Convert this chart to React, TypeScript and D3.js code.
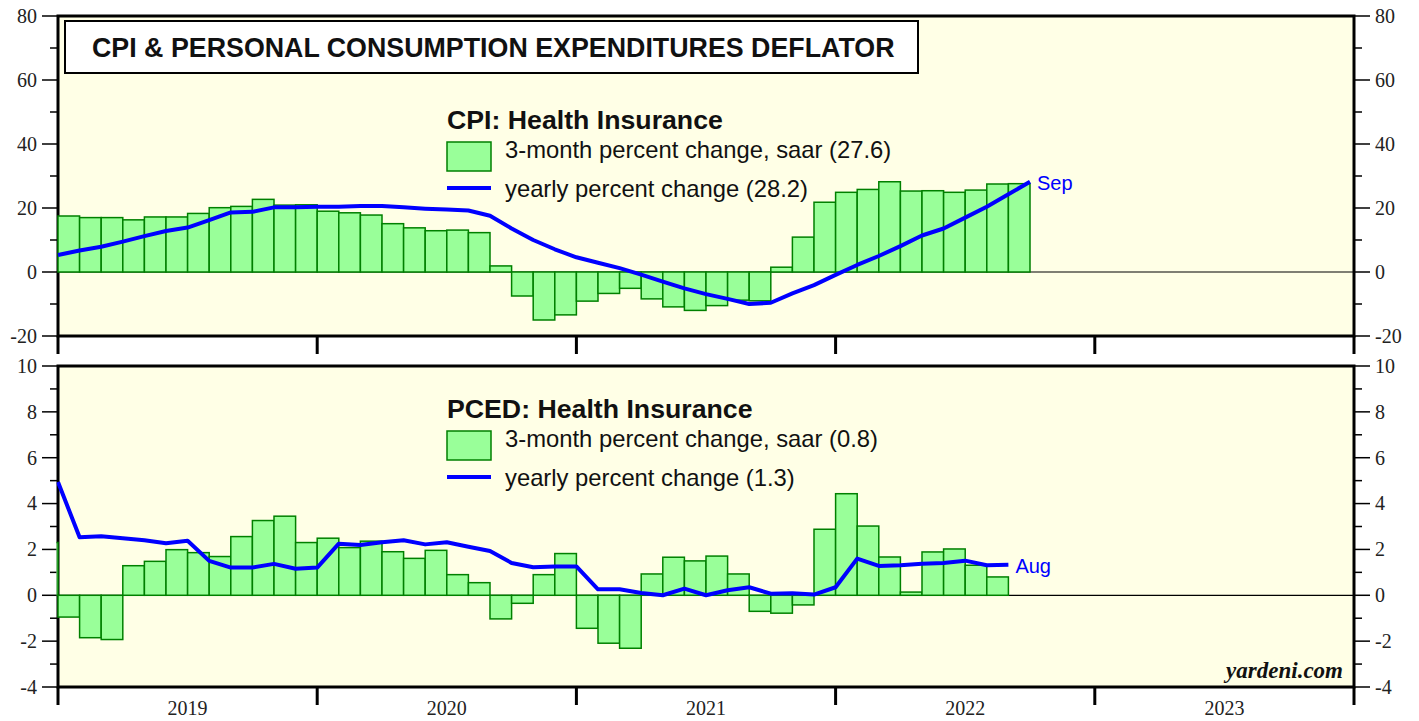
import React from "react";
import * as d3 from "d3";

// months counted from Jan 2019 = 0; bar i covers [i, i+1], line value i sits at i+1
const years = ["2019", "2020", "2021", "2022", "2023"];

// CPI health insurance, Jan 2019 .. Sep 2022
const cpiBarStart = 0;
const cpiBars = [
  17.5, 17.0, 17.0, 16.3, 17.2, 17.2, 18.3, 20.1, 20.5, 22.7, 20.9, 21.0,
  19.0, 18.5, 17.8, 15.1, 13.8, 12.9, 13.1, 12.3, 1.9, -7.5, -15.0, -13.4,
  -9.1, -6.7, -5.1, -8.4, -10.9, -12.0, -10.5, -8.8, -9.0, 1.5, 10.9, 21.8,
  24.9, 25.8, 28.2, 25.3, 25.4, 24.9, 25.6, 27.5, 27.6,
];
// Dec 2018 .. Sep 2022
const cpiLineStart = -1;
const cpiLine = [
  5.3,
  6.7, 7.9, 9.5, 11.2, 12.8, 13.9, 16.2, 18.6, 18.8, 20.2, 20.2, 20.4,
  20.4, 20.6, 20.6, 20.2, 19.8, 19.5, 19.2, 17.6, 13.6, 10.0, 7.1, 4.6,
  2.9, 1.2, -0.8, -3.0, -5.1, -6.9, -8.4, -10.0, -9.6, -6.7, -4.1, -0.9,
  2.2, 5.0, 8.1, 11.4, 13.6, 17.0, 20.4, 24.3, 28.2,
];

// PCED health insurance, Dec 2018 .. Aug 2022
const pcedBarStart = -1;
const pcedBars = [
  2.3,
  -0.95, -1.85, -1.93, 1.29, 1.48, 1.99, 1.86, 1.69, 2.56, 3.26, 3.45, 2.3,
  2.49, 2.08, 2.36, 1.9, 1.61, 1.96, 0.9, 0.55, -1.03, -0.35, 0.9, 1.82,
  -1.44, -2.09, -2.31, 0.93, 1.66, 1.5, 1.71, 0.93, -0.7, -0.78, -0.42, 2.88,
  4.43, 3.02, 1.67, 0.14, 1.89, 2.02, 1.31, 0.8,
];
const pcedLineStart = -1;
const pcedLine = [
  4.94,
  2.53, 2.57, 2.49, 2.4, 2.27, 2.38, 1.5, 1.21, 1.21, 1.37, 1.16, 1.21,
  2.25, 2.19, 2.31, 2.4, 2.22, 2.31, 2.12, 1.93, 1.41, 1.22, 1.26, 1.26,
  0.26, 0.26, 0.1, 0.0, 0.29, 0.0, 0.22, 0.35, 0.07, 0.09, 0.03, 0.35,
  1.6, 1.28, 1.31, 1.38, 1.41, 1.51, 1.31, 1.33,
];

const cpiTicks = [-20, 0, 20, 40, 60, 80];
const pcedTicks = [-4, -2, 0, 2, 4, 6, 8, 10];

const left = 58;
const right = 1354;
const bg = "#ffffe6";
const barFill = "#99ff99";
const barStroke = "#008000";
const blue = "#0000ff";
const sans = "'Liberation Sans', Arial, sans-serif";
const serif = "'Liberation Serif', 'Times New Roman', serif";

const x = d3.scaleLinear().domain([0, 60]).range([left, right]);

function Panel(props: any) {
  const { id, top, bottom, domain, ticks, minorStep, bars, barStart, line, lineStart,
    legendTitle, legendY, barLabel, lineLabel, endLabel } = props;
  const y = d3.scaleLinear().domain(domain).range([bottom, top]);
  const minor = d3.range(domain[0] + minorStep, domain[1], minorStep * 2);
  const lineGen = d3
    .line<number>()
    .x((d, i) => x(lineStart + i + 1))
    .y((d) => y(d));
  const lastX = x(lineStart + line.length);
  const lastY = y(line[line.length - 1]);
  return (
    <g>
      <defs>
        <clipPath id={id}>
          <rect x={left - 1.5} y={top} width={right - left + 1.5} height={bottom - top} />
        </clipPath>
      </defs>
      <rect x={left} y={top} width={right - left} height={bottom - top} fill={bg} />
      <line x1={left} x2={right} y1={y(0)} y2={y(0)} stroke="#000" strokeWidth={1.2} />
      <rect x={left} y={top} width={right - left} height={bottom - top} fill="none" stroke="#000" strokeWidth={3} />
      {ticks.map((t: number) => (
        <g key={"t" + t}>
          <line x1={left - 16} x2={left} y1={y(t)} y2={y(t)} stroke="#000" strokeWidth={1.5} />
          <line x1={right} x2={right + 16} y1={y(t)} y2={y(t)} stroke="#000" strokeWidth={1.5} />
          <text x={left - 21} y={y(t)} dy="0.34em" textAnchor="end" fontFamily={serif} fontSize={20} fill="#222">{t}</text>
          <text x={right + 21} y={y(t)} dy="0.34em" fontFamily={serif} fontSize={20} fill="#222">{t}</text>
        </g>
      ))}
      {minor.map((t: number) => (
        <g key={"m" + t}>
          <line x1={left - 8} x2={left} y1={y(t)} y2={y(t)} stroke="#000" strokeWidth={1.5} />
          <line x1={right} x2={right + 8} y1={y(t)} y2={y(t)} stroke="#000" strokeWidth={1.5} />
        </g>
      ))}
      {d3.range(0, 61, 12).map((m) => (
        <line key={"x" + m} x1={x(m)} x2={x(m)} y1={bottom} y2={bottom + 18} stroke="#000" strokeWidth={3} />
      ))}
      <g clipPath={`url(#${id})`}>
        {bars.map((v: number, i: number) => (
          <rect
            key={i}
            x={x(barStart + i)}
            width={x(barStart + i + 1) - x(barStart + i)}
            y={y(Math.max(0, v))}
            height={Math.abs(y(v) - y(0))}
            fill={barFill}
            stroke={barStroke}
            strokeWidth={1.5}
          />
        ))}
        <path d={lineGen(line) || ""} fill="none" stroke={blue} strokeWidth={4} strokeLinejoin="round" />
      </g>
      <text x={lastX + 7} y={lastY + 8} fontFamily={sans} fontSize={20} fill={blue}>{endLabel}</text>
      <g fontFamily={sans}>
        <text x={447} y={legendY} fontSize={26.7} fontWeight="bold" fill="#111">{legendTitle}</text>
        <rect x={447} y={legendY + 13} width={44} height={29} fill={barFill} stroke={barStroke} strokeWidth={1.5} />
        <text x={505} y={legendY + 29} fontSize={23.8} fill="#111">{barLabel}</text>
        <line x1={447} x2={491} y1={legendY + 59} y2={legendY + 59} stroke={blue} strokeWidth={4} />
        <text x={505} y={legendY + 68} fontSize={23.8} fill="#111">{lineLabel}</text>
      </g>
    </g>
  );
}

export default function App() {
  return (
    <svg width={1419} height={721} style={{ position: "absolute", left: 0, top: 0, background: "#fff" }}>
      <Panel
        id="clipTop"
        top={16}
        bottom={336}
        domain={[-20, 80]}
        ticks={cpiTicks}
        minorStep={10}
        bars={cpiBars}
        barStart={cpiBarStart}
        line={cpiLine}
        lineStart={cpiLineStart}
        legendTitle="CPI: Health Insurance"
        legendY={129}
        barLabel="3-month percent change, saar (27.6)"
        lineLabel="yearly percent change (28.2)"
        endLabel="Sep"
      />
      <Panel
        id="clipBottom"
        top={366}
        bottom={687}
        domain={[-4, 10]}
        ticks={pcedTicks}
        minorStep={1}
        bars={pcedBars}
        barStart={pcedBarStart}
        line={pcedLine}
        lineStart={pcedLineStart}
        legendTitle="PCED: Health Insurance"
        legendY={418}
        barLabel="3-month percent change, saar (0.8)"
        lineLabel="yearly percent change (1.3)"
        endLabel="Aug"
      />
      <rect x={65} y={21} width={853} height={52} fill="#fff" stroke="#000" strokeWidth={2} />
      <text x={92} y={57} fontFamily={sans} fontSize={26.8} fontWeight="bold" fill="#111">
        CPI &amp; PERSONAL CONSUMPTION EXPENDITURES DEFLATOR
      </text>
      <text x={1343} y={678} textAnchor="end" fontFamily={serif} fontSize={23} fontWeight="bold" fontStyle="italic" fill="#111">
        yardeni.com
      </text>
      {years.map((yr, i) => (
        <text key={yr} x={x(i * 12 + 6)} y={715} textAnchor="middle" fontFamily={serif} fontSize={20} fill="#222">
          {yr}
        </text>
      ))}
    </svg>
  );
}
